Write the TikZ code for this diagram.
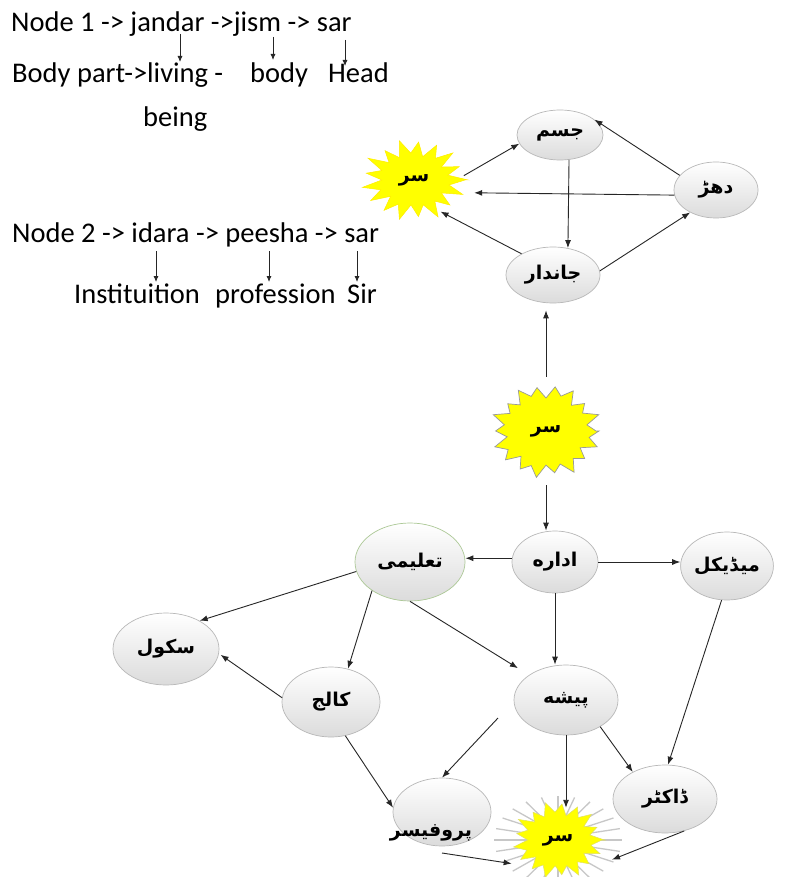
\documentclass[tikz,border=0pt]{standalone}
\usepackage{fontspec}
\setmainfont{Carlito}
\newfontfamily\urdu[Script=Arabic]{DejaVu Sans}
\TeXXeTstate=1
\usetikzlibrary{arrows.meta,shapes.geometric,calc}

% right-to-left bold Urdu label
\newcommand\ur[1]{{\urdu\bfseries\beginR #1\endR}}

% jagged burst: centre x, centre y, radius x, radius y, vertices, inner ratio, style
\newcommand\burst[7]{%
  \path[#7] plot[samples at={0,...,#5}, variable=\k]
    ({#1+#3*ifthenelse(isodd(\k),#6,1)*(1+0.06*sin(\k*77))*cos(\k*360/#5)},
     {#2+#4*ifthenelse(isodd(\k),#6,1)*(1+0.06*sin(\k*77))*sin(\k*360/#5)}) -- cycle;}

\definecolor{sun}{RGB}{255,255,0}
\definecolor{greenedge}{RGB}{172,200,150}

\tikzset{
  bub/.style={ellipse, draw=black!28, line width=0.7pt, top color=white,
    bottom color=black!14, inner sep=0pt, font=\fontsize{19}{21}\selectfont},
  spot/.style={ellipse, inner sep=0pt, draw=none, font=\fontsize{19}{21}\selectfont},
  lbl/.style={anchor=base west, inner sep=0pt, font=\fontsize{28.5}{31}\selectfont},
  link/.style={draw=black!85, line width=0.9pt, -{Latex[length=8pt,width=6pt]}},
  gloss/.style={draw=black!85, line width=0.8pt, -{Latex[length=6pt,width=5pt]}}
}

\begin{document}
\begin{tikzpicture}[x=1pt,y=-1pt]
\useasboundingbox (0,0) rectangle (785,877);
\fill[white] (0,0) rectangle (785,877);

% ---- glossary ----
\node[lbl] (n1)  at (11,32)  {Node 1 -> jandar ->jism -> sar};
\node[lbl] (g1a) at (12,83)  {Body part->living -};
\node[lbl] (g1b) at (250,83) {body};
\node[lbl] (g1c) at (328,83) {Head};
\node[lbl] (g1d) at (143,127) {being};
\node[lbl] (n2)  at (12,243) {Node 2 -> idara -> peesha -> sar};
\node[lbl] (g2a) at (74,303) {Instituition};
\node[lbl] (g2b) at (215,303) {profession};
\node[lbl] (g2c) at (347,303) {Sir};

\coordinate (a1s) at (180,34);  \coordinate (a1e) at (180,62);
\coordinate (a2s) at (273,37);  \coordinate (a2e) at (273,60);
\coordinate (a3s) at (345,40);  \coordinate (a3e) at (345,66);
\coordinate (b1s) at (156,251); \coordinate (b1e) at (156,282);
\coordinate (b2s) at (269,251); \coordinate (b2e) at (269,282);
\coordinate (b3s) at (357,251); \coordinate (b3e) at (357,282);
\foreach \s/\e in {a1s/a1e,a2s/a2e,a3s/a3e,b1s/b1e,b2s/b2e,b3s/b3e}
  \draw[gloss] (\s) -- (\e);

% ---- bursts ----
\burst{414}{180}{51}{39}{34}{0.66}{fill=sun, draw=sun!85!orange, line width=0.5pt}
\burst{546}{431}{53}{45}{36}{0.78}{fill=sun, draw=black!40, line width=0.7pt}
\foreach \a in {0,15,...,345}
  \draw[black!22, line width=1.3pt]
    ({558+25*cos(\a)},{840+22*sin(\a)}) -- ({558+64*cos(\a)},{840+44*sin(\a)});
\burst{558}{840}{44}{37}{34}{0.72}{fill=sun, draw=sun!80!black!60, line width=0.5pt}

% ---- first sense graph ----
\node[spot, minimum width=100pt, minimum height=74pt] (tstar) at (414,180) {\ur{سر}};
\node[bub, minimum width=86pt, minimum height=50pt] (jism) at (560,135) {\ur{جسم}};
\node[bub, minimum width=84pt, minimum height=56pt] (dhar) at (716,190) {\ur{دهڑ}};
\node[bub, minimum width=94pt, minimum height=56pt] (jandar) at (553,275) {\ur{جاندار}};

\draw[link] (tstar.5) -- (jism.192);
\draw[link] (dhar.158) -- (jism.24);
\draw[link, shorten >=13pt] (dhar.187) -- (tstar.-15);
\draw[link] (jism.-70) -- (jandar.61);
\draw[link] (jandar.146) -- (tstar.-50);
\draw[link] (jandar.5) -- (dhar.221);

% ---- centre ----
\node[spot, minimum width=104pt, minimum height=108pt] (mstar) at (546,431) {\ur{سر}};

% ---- second sense graph ----
\node[bub, minimum width=86pt, minimum height=62pt] (idara) at (555,562) {\ur{اداره}};
\node[bub, draw=greenedge, minimum width=110pt, minimum height=78pt] (taleemi) at (410,562) {\ur{تعلیمی}};
\node[bub, minimum width=86pt, minimum height=68pt] (medical) at (727,566) {\ur{میڈیکل}};
\node[bub, minimum width=106pt, minimum height=72pt] (school) at (166,649) {\ur{سکول}};
\node[bub, minimum width=98pt, minimum height=70pt] (college) at (331,702) {\ur{کالج}};
\node[bub, minimum width=104pt, minimum height=70pt] (peesha) at (566,700) {\ur{پیشه}};
\node[bub, minimum width=104pt, minimum height=68pt] (doctor) at (665,799) {\ur{ڈاکٹر}};
\node[bub, minimum width=98pt, minimum height=68pt] (prof) at (442,812) {};
\node[spot] (profT) at (431,833) {\ur{پروفیسر}};
\node[spot, minimum width=136pt, minimum height=64pt] (bstar) at (558,840) {\ur{سر}};

\coordinate (pp) at (498,718);
\coordinate (ps) at (442,853);

\draw[link, shorten >=7pt] (mstar.north) -- (mstar.north |- jandar.south);
\draw[link] (mstar.south) -- (mstar.south |- idara.north);
\draw[link] (idara.175) -- (idara.175 -| taleemi.east);
\draw[link] (idara.east) -- (idara.east -| medical.west);
\draw[link] (idara.south) -- (idara.south |- peesha.north);
\draw[link] (taleemi.190) -- (school.40);
\draw[link] (taleemi.217) -- (college.63);
\draw[link, shorten >=13pt] (taleemi.-90) -- (peesha.146);
\draw[link, shorten >=2pt] (college.175) -- (school.-5);
\draw[link] (college.-67) -- (prof.175);
\draw[link] (pp) -- (prof.90);
\draw[link] (peesha.south) -- (peesha.south |- bstar.north);
\draw[link] (peesha.-38) -- (doctor.140);
\draw[link] (medical.-99) -- (doctor.85);
\draw[link] (ps) -- (bstar.207);
\draw[link] (doctor.-59) -- (bstar.-20);
\end{tikzpicture}
\end{document}
